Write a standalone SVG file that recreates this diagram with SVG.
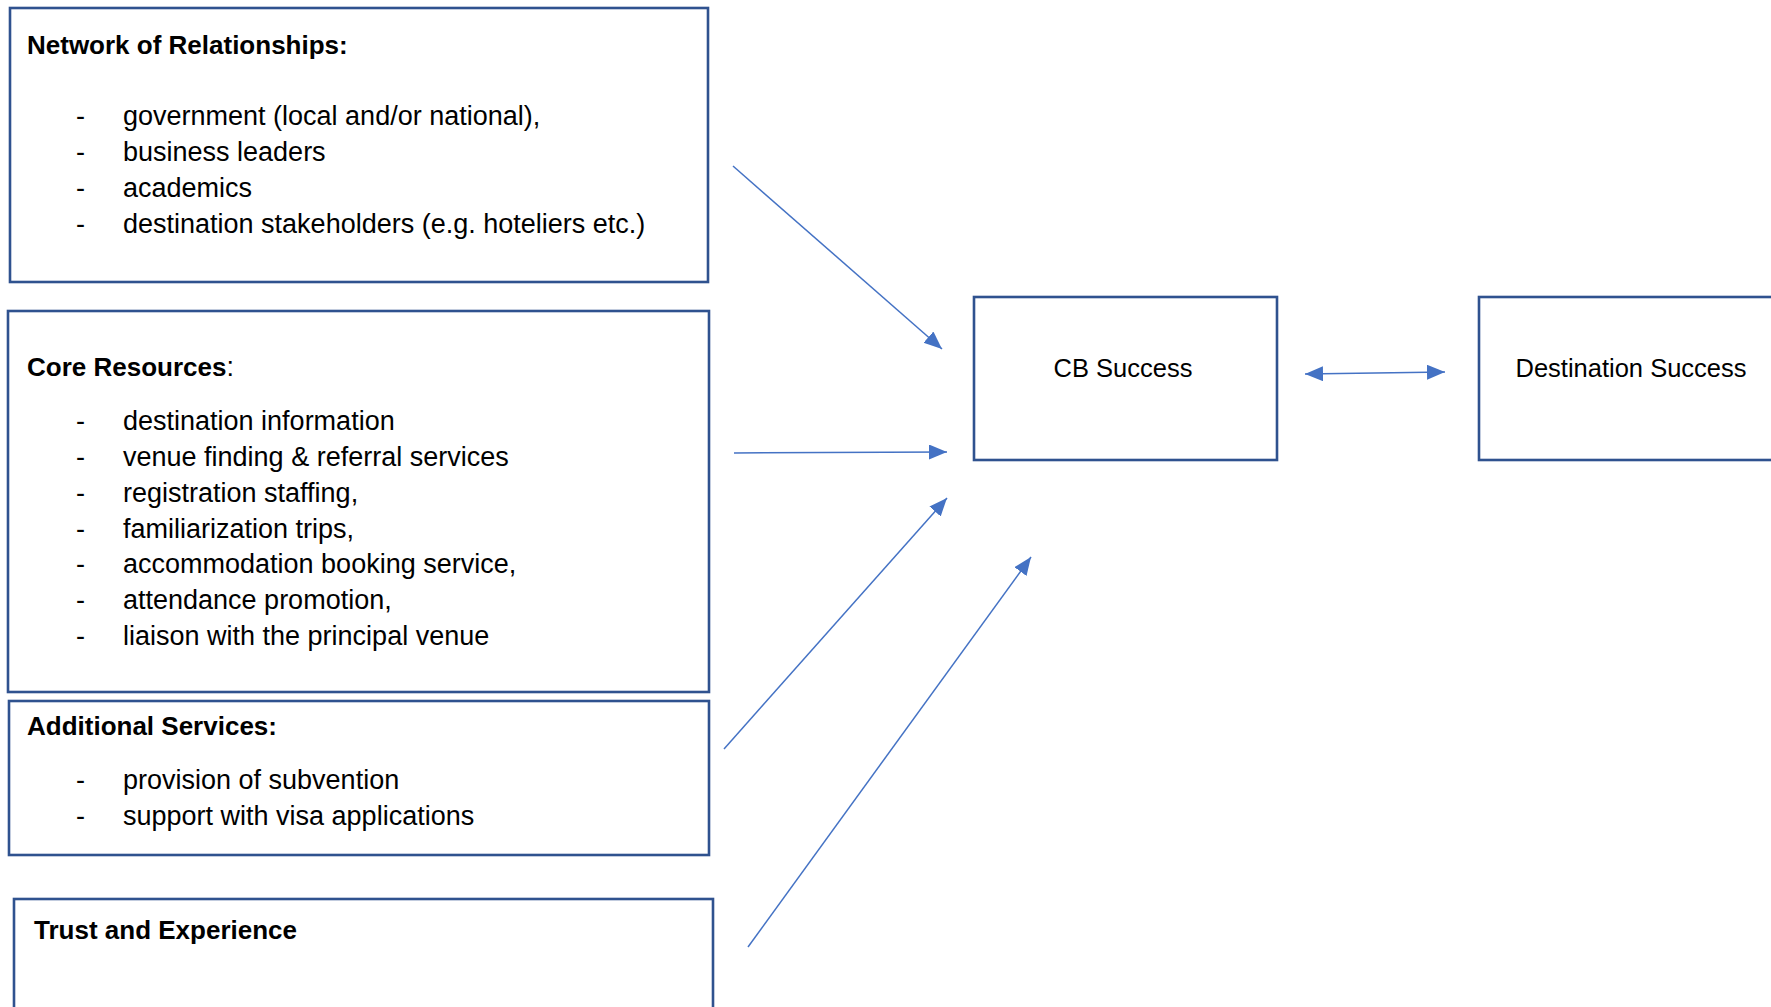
<svg xmlns="http://www.w3.org/2000/svg" width="1771" height="1007" viewBox="0 0 1771 1007">
  <style>
    .box { fill: #ffffff; stroke: #2F528F; stroke-width: 2.6; }
    .txt { font-family: "Liberation Sans", Arial, sans-serif; font-size: 27px; fill: #000000; }
    .hd { font-weight: bold; font-size: 26px; }
    .lbl { font-family: "Liberation Sans", Arial, sans-serif; font-size: 25.5px; fill: #000000; text-anchor: middle; }
    .conn { stroke: #4472C4; stroke-width: 1.5; fill: none; }
  </style>
  <defs>
    <marker id="tri" markerUnits="userSpaceOnUse" markerWidth="19" markerHeight="16" refX="18" refY="7.5" orient="auto-start-reverse">
      <path d="M0,0 L18,7.5 L0,15 z" fill="#4472C4"/>
    </marker>
  </defs>

  <rect width="1771" height="1007" fill="#ffffff"/>

  <!-- left column: contributing factors -->
  <g id="network">
    <rect class="box" x="10" y="8" width="698" height="274"/>
    <text class="txt hd" x="27" y="54">Network of Relationships:</text>
    <g class="txt">
      <text x="76" y="125">-</text><text x="123" y="125">government (local and/or national),</text>
      <text x="76" y="161">-</text><text x="123" y="161">business leaders</text>
      <text x="76" y="197">-</text><text x="123" y="197">academics</text>
      <text x="76" y="233">-</text><text x="123" y="233">destination stakeholders (e.g. hoteliers etc.)</text>
    </g>
  </g>

  <g id="core">
    <rect class="box" x="8" y="311" width="701" height="381"/>
    <text class="txt" x="27" y="376" font-size="26"><tspan class="hd">Core Resources</tspan>:</text>
    <g class="txt">
      <text x="76" y="430">-</text><text x="123" y="430">destination information</text>
      <text x="76" y="466">-</text><text x="123" y="466">venue finding &amp; referral services</text>
      <text x="76" y="502">-</text><text x="123" y="502">registration staffing,</text>
      <text x="76" y="538">-</text><text x="123" y="538">familiarization trips,</text>
      <text x="76" y="573">-</text><text x="123" y="573">accommodation booking service,</text>
      <text x="76" y="609">-</text><text x="123" y="609">attendance promotion,</text>
      <text x="76" y="645">-</text><text x="123" y="645">liaison with the principal venue</text>
    </g>
  </g>

  <g id="additional">
    <rect class="box" x="9" y="701" width="700" height="154"/>
    <text class="txt hd" x="27" y="735">Additional Services:</text>
    <g class="txt">
      <text x="76" y="789">-</text><text x="123" y="789">provision of subvention</text>
      <text x="76" y="825">-</text><text x="123" y="825">support with visa applications</text>
    </g>
  </g>

  <g id="trust">
    <rect class="box" x="14" y="899" width="699" height="130"/>
    <text class="txt hd" x="34" y="939" font-size="25.5">Trust and Experience</text>
  </g>

  <!-- outcomes -->
  <g id="cb-success">
    <rect class="box" x="974" y="297" width="303" height="163"/>
    <text class="lbl" x="1123" y="377">CB Success</text>
  </g>

  <g id="destination-success">
    <rect class="box" x="1479" y="297" width="320" height="163"/>
    <text class="lbl" x="1631" y="377" font-size="26">Destination Success</text>
  </g>

  <!-- connectors -->
  <g id="connectors">
    <line class="conn" x1="733" y1="166" x2="942" y2="349" marker-end="url(#tri)"/>
    <line class="conn" x1="734" y1="453" x2="947" y2="452" marker-end="url(#tri)"/>
    <line class="conn" x1="724" y1="749" x2="947" y2="498" marker-end="url(#tri)"/>
    <line class="conn" x1="748" y1="947" x2="1031" y2="557" marker-end="url(#tri)"/>
    <line class="conn" x1="1305" y1="374" x2="1445" y2="372" marker-start="url(#tri)" marker-end="url(#tri)"/>
  </g>
</svg>
